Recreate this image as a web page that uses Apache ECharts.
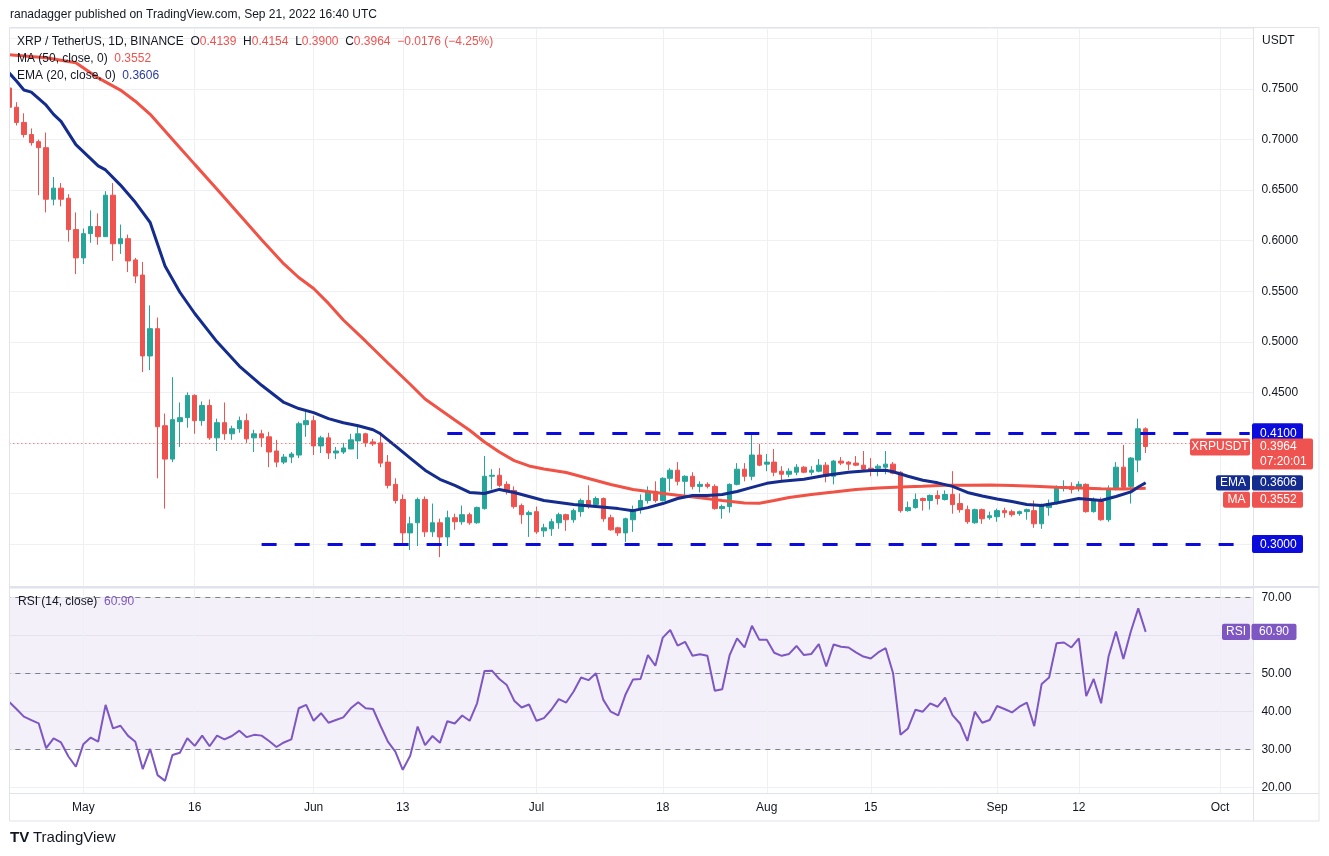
<!DOCTYPE html>
<html><head><meta charset="utf-8">
<script src="https://cdn.jsdelivr.net/npm/echarts@6/dist/echarts.min.js"></script>
<style>html,body{margin:0;padding:0;background:#fff}#c{width:1329px;height:856px}</style>
</head><body><div id="c"></div>
<script>
// ---------------- data ----------------
const startDate = [2022, 3, 21];   // 21 Apr 2022 (month is 0-based)
const categoryCount = 168;          // daily slots up to early October

const opens = [0.751,0.732,0.717,0.705,0.698,0.692,0.641,0.652,0.642,0.611,
0.583,0.607,0.614,0.604,0.645,0.597,0.602,0.581,0.566,0.486,
0.513,0.417,0.384,0.421,0.425,0.447,0.422,0.437,0.405,0.420,
0.409,0.414,0.422,0.405,0.409,0.406,0.392,0.381,0.386,0.388,
0.418,0.422,0.397,0.405,0.390,0.391,0.394,0.402,0.409,0.401,
0.400,0.381,0.359,0.344,0.311,0.321,0.344,0.312,0.321,0.307,
0.326,0.322,0.329,0.321,0.335,0.367,0.368,0.359,0.353,0.338,
0.329,0.332,0.313,0.315,0.321,0.329,0.324,0.332,0.343,0.339,
0.345,0.326,0.316,0.311,0.324,0.334,0.343,0.352,0.343,0.365,
0.373,0.362,0.367,0.357,0.359,0.357,0.335,0.337,0.359,0.374,
0.367,0.388,0.379,0.381,0.372,0.369,0.371,0.376,0.371,0.372,
0.378,0.367,0.382,0.381,0.380,0.378,0.375,0.375,0.376,0.379,
0.371,0.333,0.336,0.345,0.343,0.348,0.344,0.349,0.340,0.334,
0.321,0.334,0.326,0.327,0.333,0.332,0.330,0.332,0.333,0.320,
0.336,0.340,0.355,0.357,0.355,0.359,0.332,0.342,0.324,0.355,
0.376,0.357,0.383,0.4139];
const highs = [0.755,0.737,0.726,0.711,0.700,0.707,0.663,0.657,0.646,0.628,
0.612,0.630,0.627,0.649,0.657,0.616,0.606,0.583,0.579,0.536,
0.524,0.429,0.465,0.440,0.450,0.448,0.441,0.443,0.424,0.440,
0.417,0.426,0.429,0.413,0.413,0.411,0.403,0.389,0.391,0.421,
0.433,0.427,0.407,0.410,0.396,0.400,0.409,0.418,0.410,0.404,
0.411,0.388,0.365,0.349,0.327,0.346,0.347,0.340,0.325,0.333,
0.330,0.338,0.331,0.337,0.387,0.374,0.375,0.362,0.357,0.340,
0.333,0.337,0.320,0.325,0.331,0.330,0.335,0.345,0.358,0.347,
0.346,0.329,0.317,0.326,0.338,0.349,0.357,0.362,0.366,0.375,
0.381,0.368,0.371,0.362,0.361,0.359,0.339,0.360,0.380,0.380,
0.409,0.399,0.389,0.394,0.377,0.375,0.379,0.377,0.377,0.384,
0.381,0.383,0.386,0.382,0.387,0.392,0.385,0.379,0.392,0.381,
0.372,0.342,0.350,0.346,0.349,0.353,0.353,0.372,0.350,0.338,
0.335,0.335,0.332,0.335,0.336,0.334,0.333,0.335,0.343,0.340,
0.344,0.358,0.363,0.361,0.362,0.360,0.346,0.346,0.358,0.381,
0.398,0.386,0.424,0.4154];
const lows = [0.728,0.714,0.702,0.694,0.645,0.628,0.635,0.634,0.599,0.567,
0.577,0.598,0.596,0.604,0.580,0.587,0.569,0.558,0.470,0.472,
0.365,0.335,0.381,0.396,0.415,0.409,0.417,0.403,0.392,0.403,
0.403,0.410,0.400,0.391,0.396,0.376,0.376,0.379,0.380,0.385,
0.406,0.388,0.390,0.384,0.384,0.389,0.394,0.384,0.396,0.397,
0.376,0.355,0.340,0.301,0.294,0.298,0.307,0.307,0.287,0.298,
0.314,0.319,0.319,0.320,0.334,0.354,0.356,0.349,0.335,0.320,
0.307,0.310,0.307,0.308,0.315,0.313,0.321,0.327,0.335,0.338,
0.322,0.313,0.308,0.302,0.312,0.330,0.340,0.341,0.342,0.352,
0.358,0.348,0.354,0.351,0.355,0.334,0.325,0.331,0.358,0.362,
0.363,0.377,0.372,0.367,0.363,0.366,0.368,0.370,0.368,0.371,
0.361,0.359,0.378,0.373,0.377,0.373,0.367,0.367,0.369,0.369,
0.331,0.332,0.335,0.333,0.334,0.339,0.343,0.330,0.331,0.320,
0.320,0.320,0.324,0.322,0.326,0.327,0.328,0.324,0.316,0.315,
0.328,0.339,0.352,0.350,0.352,0.331,0.331,0.323,0.322,0.353,
0.355,0.340,0.371,0.3900];
const closes = [0.732,0.717,0.705,0.697,0.692,0.641,0.652,0.641,0.611,0.583,
0.607,0.614,0.604,0.645,0.597,0.602,0.580,0.565,0.486,0.513,
0.416,0.384,0.423,0.425,0.447,0.422,0.437,0.405,0.420,0.409,
0.414,0.422,0.404,0.409,0.405,0.391,0.381,0.386,0.389,0.419,
0.422,0.397,0.405,0.390,0.392,0.395,0.403,0.409,0.400,0.399,
0.380,0.358,0.343,0.311,0.320,0.344,0.312,0.321,0.307,0.326,
0.322,0.329,0.321,0.336,0.367,0.368,0.358,0.352,0.337,0.329,
0.331,0.312,0.316,0.322,0.329,0.324,0.333,0.343,0.337,0.345,
0.325,0.314,0.311,0.325,0.334,0.343,0.352,0.343,0.365,0.373,
0.362,0.367,0.357,0.359,0.357,0.335,0.337,0.359,0.374,0.367,
0.388,0.378,0.381,0.371,0.369,0.372,0.376,0.371,0.373,0.378,
0.367,0.382,0.380,0.379,0.378,0.374,0.374,0.377,0.379,0.370,
0.333,0.336,0.344,0.343,0.348,0.345,0.349,0.339,0.334,0.322,
0.334,0.325,0.328,0.333,0.331,0.329,0.332,0.334,0.320,0.338,
0.340,0.356,0.357,0.354,0.359,0.332,0.343,0.324,0.355,0.376,
0.356,0.385,0.414,0.3964];

// MA(50) and EMA(20): [day index, value]
const ma50 = [[0,0.784],[5,0.781],[9,0.776],[12,0.761],[15,0.749],[17,0.738],[19,0.725],[21,0.7085],
[23,0.692],[25,0.6755],[28,0.651],[31,0.626],[34,0.601],[37,0.577],[39,0.5636],[41,0.5527],[43,0.538],
[45,0.5216],[48,0.5006],[51,0.479],[54,0.458],[56,0.4434],[58,0.433],[60,0.4227],[62,0.4125],[64,0.4009],
[66,0.391],[68,0.3825],[70,0.3772],[72,0.3742],[75,0.3707],[78,0.3648],[81,0.3589],[84,0.3539],[87,0.3509],
[90,0.3482],[93,0.3457],[96,0.343],[99,0.3406],[101,0.3403],[103,0.343],[105,0.346],[108,0.349],[111,0.3514],
[114,0.3539],[117,0.3554],[120,0.3564],[123,0.3572],[126,0.3581],[129,0.3581],[132,0.3584],[135,0.3579],
[138,0.3571],[141,0.3561],[144,0.3554],[147,0.3546],[150,0.3544],[153,0.3552]];
const ema20 = [[0,0.766],[1,0.758],[2,0.749],[3,0.747],[5,0.734],[6,0.725],[7,0.718],[9,0.695],[12,0.674],
[13,0.670],[15,0.655],[17,0.638],[18,0.628],[19,0.618],[21,0.575],[23,0.549],[25,0.528],[28,0.500],[31,0.476],
[34,0.457],[37,0.440],[39,0.434],[41,0.430],[43,0.424],[45,0.420],[47,0.417],[49,0.413],[50,0.409],[52,0.397],
[54,0.385],[56,0.373],[58,0.364],[60,0.358],[62,0.351],[64,0.350],[66,0.354],[68,0.351],[70,0.347],[72,0.343],
[74,0.341],[76,0.339],[79,0.337],[82,0.335],[84,0.333],[86,0.336],[88,0.340],[90,0.345],[92,0.348],[94,0.348],
[96,0.349],[98,0.352],[100,0.356],[102,0.360],[104,0.362],[107,0.364],[110,0.368],[113,0.371],[116,0.3727],
[118,0.373],[119,0.3715],[121,0.367],[123,0.363],[125,0.3605],[127,0.357],[129,0.351],[131,0.3475],[133,0.3445],
[135,0.342],[137,0.339],[139,0.338],[141,0.3405],[143,0.3435],[144,0.345],[147,0.343],[149,0.347],[151,0.3515],
[152,0.3564],[153,0.3606]];

const rsi14 = [42.5,40.6,38.6,37.7,36.8,30.3,32.9,31.8,28.1,25.4,
31.3,33.1,32.0,41.7,35.5,36.2,33.6,32.0,24.8,30.1,
23.2,21.7,28.5,29.1,32.9,30.9,33.6,30.8,33.6,32.6,
33.5,34.9,33.2,33.8,33.6,32.2,30.6,31.8,32.6,40.8,
41.7,37.5,39.5,37.0,37.7,38.4,40.8,42.4,40.8,40.6,
36.2,32.0,29.4,24.6,28.3,36.0,31.1,33.5,31.7,37.4,
36.8,38.9,37.5,42.1,50.6,50.7,48.5,46.9,42.8,41.0,
41.8,37.5,38.2,40.4,43.2,42.3,45.2,48.9,48.2,50.0,
43.0,39.9,38.9,44.5,48.4,48.5,54.8,52.0,59.4,61.4,
57.3,58.3,54.6,55.0,54.6,45.4,45.8,54.8,59.2,56.8,
62.5,58.8,58.8,55.4,54.6,55.1,57.2,54.8,55.1,57.7,
51.8,57.6,57.0,56.8,55.5,54.4,53.9,55.5,56.6,50.0,
33.8,35.5,40.4,39.9,42.1,41.2,43.6,39.0,36.8,32.2,
39.9,37.0,37.7,41.4,40.6,39.7,41.2,42.3,36.1,47.2,
48.9,57.9,58.1,56.8,59.2,44.0,48.5,42.1,54.4,61.0,
53.8,61.0,67.1,60.90];

const tickDates  = ['2022-05-01','2022-05-16','2022-06-01','2022-06-13','2022-07-01','2022-07-18','2022-08-01','2022-08-15','2022-09-01','2022-09-12','2022-10-01'];
const tickLabels = ['May','16','Jun','13','Jul','18','Aug','15','Sep','12','Oct'];
const priceTickLabels = ['0.7500','0.7000','0.6500','0.6000','0.5500','0.5000','0.4500'];
const rsiTickLabels = ['70.00','50.00','40.00','30.00','20.00'];

const resistance = 0.41, resistanceFrom = '2022-06-19';
const support = 0.30, supportFrom = '2022-05-25';
const rsiLevels = [70, 50, 30];
const countdown = '07:20:01';

// ---------------- build ----------------
const categories = [];
const d0 = Date.UTC(startDate[0], startDate[1], startDate[2]);
for (let i = 0; i < categoryCount; i++) categories.push(new Date(d0 + i * 86400000).toISOString().slice(0, 10));
const lastCat = categories[categories.length - 1];
const candleData = opens.map((o, i) => [o, closes[i], lows[i], highs[i]]);

const FONT = '"Liberation Sans", Arial, sans-serif';
const UP = '#26a69a', DOWN = '#ef5350', MA_C = '#f05246', EMA_C = '#142c8e', RSI_C = '#7e57c2', LVL = '#0b0bdc';
const GRIDC = '#eef0f4';
const GL = 5.3, GR = 75.6;

const chart = echarts.init(document.getElementById('c'));
const option = {
  animation: false,
  backgroundColor: '#ffffff',
  textStyle: { fontFamily: FONT },
  grid: [
    { left: GL, right: GR, top: 28, height: 558 },
    { left: GL, right: GR, top: 588, height: 205.3 }
  ],
  xAxis: [
    { type: 'category', gridIndex: 0, data: categories, boundaryGap: true, show: true,
      axisLine: { show: false }, axisTick: { show: false }, axisLabel: { show: false }, splitLine: { show: false } },
    { type: 'category', gridIndex: 1, data: categories, boundaryGap: true,
      axisLine: { show: false }, axisTick: { show: false }, splitLine: { show: false },
      axisLabel: { interval: (idx, val) => tickDates.includes(val),
        formatter: (val) => { const k = tickDates.indexOf(val); return k >= 0 ? tickLabels[k] : ''; },
        color: '#131722', fontSize: 12, margin: 8, fontFamily: FONT } }
  ],
  yAxis: [
    { type: 'value', gridIndex: 0, position: 'right', min: 0.25846, max: 0.81039, splitNumber: 11,
      axisLine: { show: false }, axisTick: { show: false },
      axisLabel: { formatter: v => { const s = v.toFixed(4); return priceTickLabels.includes(s) ? s : ''; },
        color: '#131722', fontSize: 12, margin: 8, fontFamily: FONT, showMinLabel: true, showMaxLabel: true },
      splitLine: { show: true, lineStyle: { color: GRIDC, width: 1 } } },
    { type: 'value', gridIndex: 1, position: 'right', min: 18.42, max: 72.45, splitNumber: 5,
      axisLine: { show: false }, axisTick: { show: false },
      axisLabel: { formatter: v => { const s = v.toFixed(2); return rsiTickLabels.includes(s) ? s : ''; },
        color: '#131722', fontSize: 12, margin: 8, fontFamily: FONT },
      splitLine: { show: true, lineStyle: { color: GRIDC, width: 1 } } }
  ],
  series: [
    { type: 'line', name: 'vgrid0', xAxisIndex: 0, yAxisIndex: 0, data: [], z: 1, silent: true,
      markLine: { silent: true, symbol: 'none', z: 1, label: { show: false }, emphasis: { disabled: true },
        lineStyle: { color: GRIDC, width: 1, type: 'solid' },
        data: tickDates.map(d => ({ xAxis: d })) } },
    { type: 'line', name: 'vgrid1', xAxisIndex: 1, yAxisIndex: 1, data: [], z: 1, silent: true,
      markLine: { silent: true, symbol: 'none', z: 1, label: { show: false }, emphasis: { disabled: true },
        lineStyle: { color: GRIDC, width: 1, type: 'solid' },
        data: tickDates.map(d => ({ xAxis: d })) } },
    { type: 'candlestick', name: 'XRPUSDT', xAxisIndex: 0, yAxisIndex: 0, data: candleData, barWidth: 5, z: 2,
      itemStyle: { color: UP, color0: DOWN, borderColor: UP, borderColor0: DOWN, borderWidth: 1 },
      markLine: { silent: true, symbol: 'none', z: 6, label: { show: false }, emphasis: { disabled: true },
        data: [
          [ { coord: [resistanceFrom, resistance], lineStyle: { color: LVL, width: 3, type: [15, 18] } },
            { coord: [lastCat, resistance] } ],
          [ { coord: [supportFrom, support], lineStyle: { color: LVL, width: 3, type: [15, 18] } },
            { coord: [lastCat, support] } ],
          { yAxis: closes[closes.length - 1], lineStyle: { color: DOWN, width: 1, type: [1, 3] } }
        ] } },
    { type: 'line', name: 'MA', xAxisIndex: 0, yAxisIndex: 0, data: ma50, showSymbol: false, symbol: 'none', z: 3,
      lineStyle: { color: MA_C, width: 3 }, silent: true },
    { type: 'line', name: 'EMA', xAxisIndex: 0, yAxisIndex: 0, data: ema20, showSymbol: false, symbol: 'none', z: 4,
      lineStyle: { color: EMA_C, width: 3 }, silent: true },
    { type: 'line', name: 'RSI', xAxisIndex: 1, yAxisIndex: 1, data: rsi14, showSymbol: false, symbol: 'none', z: 4,
      lineStyle: { color: RSI_C, width: 2 }, silent: true,
      markArea: { silent: true, z: 0, itemStyle: { color: 'rgba(126,87,194,0.09)' },
        data: [[ { yAxis: 30 }, { yAxis: 70 } ]] },
      markLine: { silent: true, symbol: 'none', z: 1, label: { show: false }, emphasis: { disabled: true },
        lineStyle: { color: '#7d808a', width: 1, type: [5, 5] },
        data: rsiLevels.map(v => ({ yAxis: v })) } }
  ]
};
chart.setOption(option);

// ---------------- annotations ----------------
const py = v => chart.convertToPixel({ yAxisIndex: 0 }, v);
const ry = v => chart.convertToPixel({ yAxisIndex: 1 }, v);
const G = [];
const rect = (x, y, w, h, fill, z) => G.push({ type: 'rect', silent: true, z: z || 100, shape: { x, y, width: w, height: h, r: 2 }, style: { fill } });
const txt = (x, y, text, fill, align, font, z) => G.push({ type: 'text', silent: true, z: z || 101,
  style: { x, y, text, fill, align: align || 'left', verticalAlign: 'middle', font: font || ('12px ' + FONT) } });
const line = (x1, y1, x2, y2, stroke, w) => G.push({ type: 'line', silent: true, z: 60, shape: { x1, y1, x2, y2 }, style: { stroke, lineWidth: w || 1 } });

// clip & frame
G.push({ type: 'rect', silent: true, z: 50, shape: { x: 0, y: 27, width: 9.5, height: 796 }, style: { fill: '#ffffff' } });
const FR = '#e0e3eb';
line(9.5, 27.5, 1319, 27.5, FR); line(9.5, 27.5, 9.5, 821, FR); line(1319, 27.5, 1319, 821, FR);
line(9.5, 821, 1319, 821, FR); line(9.5, 587, 1319, 587, FR, 2); line(9.5, 793.5, 1319, 793.5, FR);
line(1253.5, 27.5, 1253.5, 821, FR);

// header
const n = closes.length;
const chg = closes[n - 1] - closes[n - 2];
const HF = '12px ' + FONT;
txt(10, 15, 'ranadagger published on TradingView.com, Sep 21, 2022 16:40 UTC', '#131722', 'left', HF);
G.push({ type: 'text', silent: true, z: 101, style: { x: 17, y: 42, verticalAlign: 'middle', font: HF, fill: '#131722',
  text: 'XRP / TetherUS, 1D, BINANCE  O{r|' + opens[n-1].toFixed(4) + '}  H{r|' + highs[n-1].toFixed(4) + '}  L{r|' + lows[n-1].toFixed(4) +
        '}  C{r|' + closes[n-1].toFixed(4) + '}  {r|' + (chg < 0 ? '−' : '+') + Math.abs(chg).toFixed(4) + ' (' + (chg < 0 ? '−' : '+') + Math.abs(chg / closes[n-2] * 100).toFixed(2) + '%)}',
  rich: { r: { fill: DOWN, color: DOWN, font: HF } } } });
G.push({ type: 'text', silent: true, z: 101, style: { x: 17, y: 59, verticalAlign: 'middle', font: HF, fill: '#131722',
  text: 'MA (50, close, 0)  {r|' + ma50[ma50.length-1][1].toFixed(4) + '}', rich: { r: { fill: DOWN, color: DOWN, font: HF } } } });
G.push({ type: 'text', silent: true, z: 101, style: { x: 17, y: 76, verticalAlign: 'middle', font: HF, fill: '#131722',
  text: 'EMA (20, close, 0)  {b|' + ema20[ema20.length-1][1].toFixed(4) + '}', rich: { b: { fill: '#2a3c9c', color: '#2a3c9c', font: HF } } } });
G.push({ type: 'text', silent: true, z: 101, style: { x: 18, y: 602, verticalAlign: 'middle', font: HF, fill: '#131722',
  text: 'RSI (14, close)  {p|' + rsi14[rsi14.length-1].toFixed(2) + '}', rich: { p: { fill: RSI_C, color: RSI_C, font: HF } } } });
txt(1262, 41, 'USDT', '#131722');

// axis tags
const yR1 = py(resistance), yS = py(support), yP = py(closes[n-1]);
const emaV = ema20[ema20.length-1][1], maV = ma50[ma50.length-1][1];
const yE = py(emaV), yMraw = py(maV);
const yM = Math.max(yMraw, yE + 17);
rect(1252, yR1 - 9.5, 51, 19, LVL); txt(1260, yR1 + 0.5, resistance.toFixed(4), '#ffffff');
rect(1252, yS - 9, 51, 18, LVL); txt(1260, yS + 0.5, support.toFixed(4), '#ffffff');
rect(1190, yP - 8, 60, 17, DOWN); txt(1220, yP + 0.5, 'XRPUSDT', '#ffffff', 'center');
rect(1252, yP - 8, 61, 31, DOWN); txt(1260, yP + 0.5, closes[n-1].toFixed(4), '#ffffff'); txt(1260, yP + 15, countdown, '#ffffff');
rect(1216, yE - 7.6, 34, 15.4, EMA_C); txt(1233, yE, 'EMA', '#ffffff', 'center');
rect(1252, yE - 7.6, 51, 15.4, EMA_C); txt(1260, yE, emaV.toFixed(4), '#ffffff');
rect(1223, yM - 8, 27, 16, DOWN); txt(1236.5, yM, 'MA', '#ffffff', 'center');
rect(1252, yM - 8, 51, 16, DOWN); txt(1260, yM, maV.toFixed(4), '#ffffff');
const yRs = ry(rsi14[rsi14.length-1]);
rect(1222, yRs - 8.2, 28, 16.4, RSI_C); txt(1236, yRs, 'RSI', '#ffffff', 'center');
rect(1251.5, yRs - 8.2, 45, 16.4, RSI_C); txt(1259, yRs, rsi14[rsi14.length-1].toFixed(2), '#ffffff');

// footer logo
txt(10, 838, 'TV', '#131722', 'left', 'bold 15px ' + FONT);
txt(33, 838, 'TradingView', '#131722', 'left', '15px ' + FONT);

chart.setOption({ graphic: G });
</script>
</body></html>
